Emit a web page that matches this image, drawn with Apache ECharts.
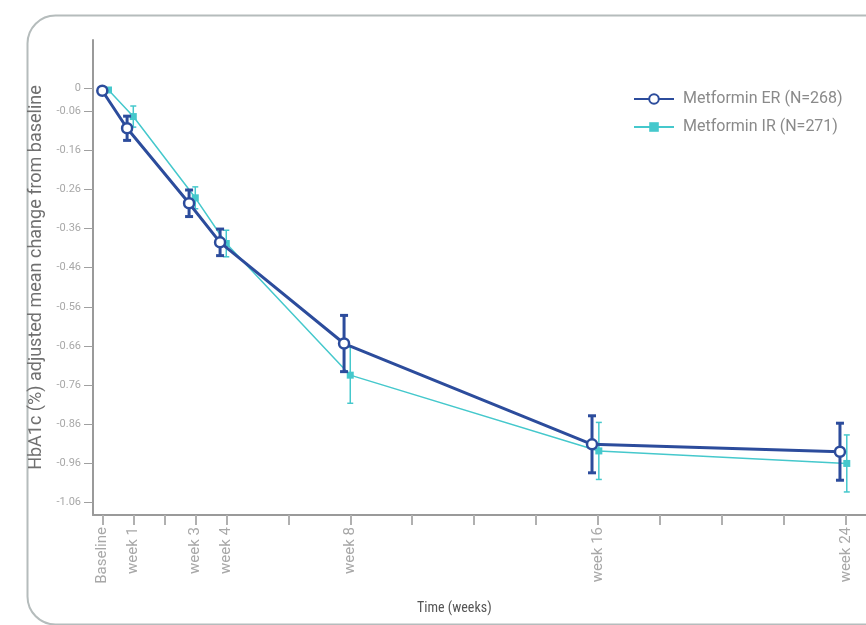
<!DOCTYPE html>
<html>
<head>
<meta charset="utf-8">
<script src="https://cdn.jsdelivr.net/npm/echarts@6/dist/echarts.min.js"></script>
<style>
  html, body { margin: 0; padding: 0; background: #fff; }
  #chart { width: 866px; height: 625px; }
</style>
</head>
<body>
<div id="chart"></div>
<script>
// 数据
var weekLabels = ['Baseline', 'week 1', 'week 3', 'week 4', 'week 8', 'week 16', 'week 24'];
var labelWeeks = [0, 1, 3, 4, 8, 16, 24];
var tickWeeks = [0, 1, 2, 3, 4, 6, 8, 10, 12, 14, 16, 18, 20, 22, 24];
var yTickVals = [0, -0.06, -0.16, -0.26, -0.36, -0.46, -0.56, -0.66, -0.76, -0.86, -0.96, -1.06];

// 两组点在横向上略微错开
var erWeeks = [0, 0.8, 2.8, 3.8, 7.8, 15.8, 23.8];
var irWeeks = [0.2, 1, 3, 4, 8, 16.02, 24.02];

var erMean = [-0.007, -0.103, -0.295, -0.395, -0.654, -0.912, -0.931];
var erErr  = [0, 0.031, 0.034, 0.034, 0.072, 0.073, 0.073];
var irMean = [-0.005, -0.073, -0.281, -0.398, -0.735, -0.929, -0.961];
var irErr  = [0, 0.027, 0.028, 0.034, 0.072, 0.073, 0.073];

var erColor = '#2c4c9c';
var irColor = '#45c8cc';

function pts(xs, ys) {
    var arr = [];
    for (var i in xs) arr.push([xs[i], ys[i]]);
    return arr;
}
function bars(xs, ys, es) {
    var arr = [];
    for (var i in xs) {
        if (es[i] > 0) arr.push([xs[i], ys[i] - es[i], ys[i] + es[i]]);
    }
    return arr;
}
// 误差线
function errRender(color, width, cap) {
    return function(params, api) {
        var lo = api.coord([api.value(0), api.value(1)]);
        var hi = api.coord([api.value(0), api.value(2)]);
        var st = { stroke: color, lineWidth: width };
        return {
            type: 'group',
            children: [
                { type: 'line', shape: { x1: lo[0], y1: lo[1], x2: hi[0], y2: hi[1] }, style: st },
                { type: 'line', shape: { x1: lo[0] - cap, y1: lo[1], x2: lo[0] + cap, y2: lo[1] }, style: st },
                { type: 'line', shape: { x1: hi[0] - cap, y1: hi[1], x2: hi[0] + cap, y2: hi[1] }, style: st }
            ]
        };
    };
}

var chart = echarts.init(document.getElementById('chart'));
var option = {
    animation: false,
    backgroundColor: '#fff',
    textStyle: { fontFamily: 'Roboto, "Liberation Sans", sans-serif' },
    graphic: [{
        type: 'rect',
        left: 25, top: 13,
        shape: { width: 900, height: 609, r: 28 },
        style: { fill: 'none', stroke: '#b5bcbc', lineWidth: 2 },
        z: -1
    }, {
        type: 'text',
        left: 417, top: 601,
        style: { text: 'Time (weeks)', fill: '#555', font: '14px "Liberation Sans Narrow", "Roboto Condensed", sans-serif' }
    }],
    legend: {
        orient: 'vertical',
        left: 628, top: 86,
        itemWidth: 40, itemHeight: 12, itemGap: 12,
        textStyle: { color: '#8a8a8a', fontSize: 16, padding: [0, 0, 0, 4] },
        data: ['Metformin ER (N=268)', 'Metformin IR (N=271)']
    },
    grid: { left: 93, right: 0, top: 40, bottom: 110 },
    xAxis: {
        type: 'value',
        min: -0.3, max: 24.64,
        splitLine: { show: false },
        axisLine: { onZero: false, lineStyle: { color: '#9a9a9a', width: 2 } },
        axisTick: { customValues: tickWeeks, length: 10, lineStyle: { color: '#b0b0b0', width: 2 } },
        axisLabel: {
            customValues: labelWeeks,
            rotate: 90,
            color: '#a8a8a8', fontSize: 15, margin: 12,
            formatter: function(v) {
                var i = labelWeeks.indexOf(v);
                return i >= 0 ? weekLabels[i] : '';
            }
        }
    },
    yAxis: {
        type: 'value',
        min: -1.093, max: 0.123,
        name: 'HbA1c (%) adjusted mean change from baseline',
        nameLocation: 'middle',
        nameGap: 39,
        nameTextStyle: { color: '#707070', fontSize: 18 },
        splitLine: { show: false },
        axisLine: { onZero: false, lineStyle: { color: '#9a9a9a', width: 2 } },
        axisTick: { customValues: yTickVals, length: 9, lineStyle: { color: '#a0a0a0', width: 1 } },
        axisLabel: {
            customValues: yTickVals,
            color: '#a8a8a8', fontSize: 11, margin: 12,
            formatter: function(v) { return v === 0 ? '0' : v.toFixed(2); }
        }
    },
    series: [{
        name: 'Metformin IR (N=271)',
        type: 'line',
        data: pts(irWeeks, irMean),
        symbol: 'rect', symbolSize: 7,
        itemStyle: { color: irColor },
        lineStyle: { color: irColor, width: 1.5 },
        z: 3
    }, {
        name: 'IR err',
        type: 'custom',
        data: bars(irWeeks, irMean, irErr),
        encode: { x: 0, y: [1, 2] },
        renderItem: errRender(irColor, 1.5, 3),
        z: 2
    }, {
        name: 'ER err',
        type: 'custom',
        data: bars(erWeeks, erMean, erErr),
        encode: { x: 0, y: [1, 2] },
        renderItem: errRender(erColor, 3, 4),
        z: 4
    }, {
        name: 'Metformin ER (N=268)',
        type: 'line',
        data: pts(erWeeks, erMean),
        symbol: 'circle', symbolSize: 10,
        itemStyle: { color: '#fff', borderColor: erColor, borderWidth: 2.5 },
        lineStyle: { color: erColor, width: 3 },
        z: 5
    }]
};
chart.setOption(option);
</script>
</body>
</html>
